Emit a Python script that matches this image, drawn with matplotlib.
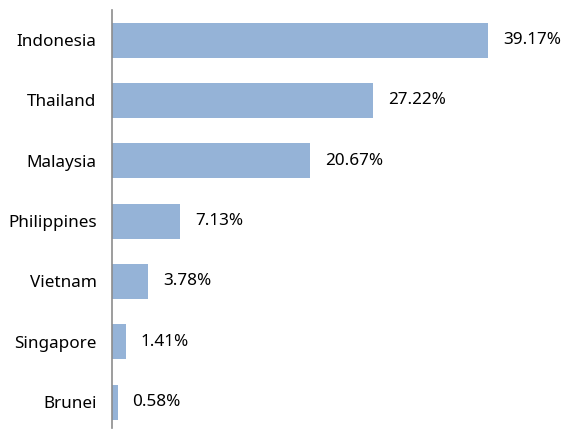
import matplotlib
matplotlib.use("Agg")
import matplotlib.pyplot as plt

countries = ["Indonesia", "Thailand", "Malaysia", "Philippines",
             "Vietnam", "Singapore", "Brunei"]
shares = [39.17, 27.22, 20.67, 7.13, 3.78, 1.41, 0.58]

plt.rcParams["font.family"] = ["Noto Sans", "DejaVu Sans"]

fig = plt.figure(figsize=(5.61, 4.29), dpi=100)
ax = fig.add_axes([112 / 561, 1 - 428 / 429, 449 / 561, 418 / 429])

pos = range(len(countries))
ax.barh(pos, shares, height=0.58, color="#95B3D7", edgecolor="none")

# value labels, 15 px right of each bar end
for y, v in zip(pos, shares):
    ax.annotate("%.2f%%" % v, (v, y), xytext=(15, 0),
                textcoords="offset pixels", va="center", ha="left",
                fontsize=12.3, color="black")

ax.set_xlim(0, 449 / 9.6)
ax.set_ylim(6.43, -0.5)
ax.set_yticks(list(pos))
ax.set_yticklabels(countries, fontsize=12.3, color="black")
ax.tick_params(axis="y", length=0, pad=11)
ax.set_xticks([])

for side in ["top", "right", "bottom"]:
    ax.spines[side].set_visible(False)
ax.spines["left"].set_color("#8c8c8c")
ax.spines["left"].set_linewidth(1.2)

fig.savefig("out.png", dpi=100)
